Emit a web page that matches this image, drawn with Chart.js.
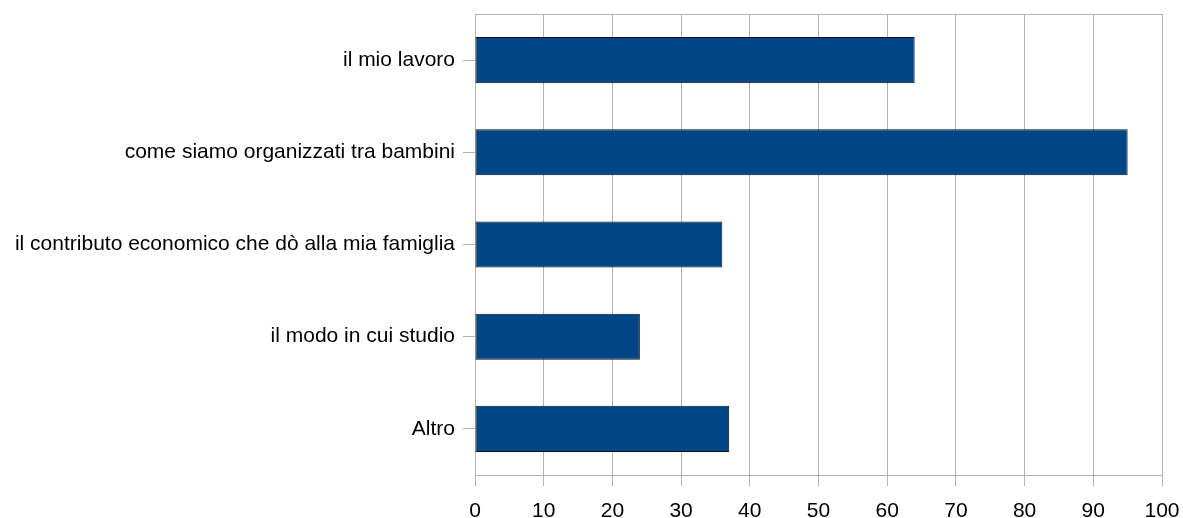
<!DOCTYPE html>
<html>
<head>
<meta charset="utf-8">
<script src="https://cdn.jsdelivr.net/npm/chart.js@4/dist/chart.umd.min.js"></script>
<style>
  html, body { margin: 0; padding: 0; background: #fff; }
  #wrap { width: 1183px; height: 518px; }
</style>
</head>
<body>
<div id="wrap"><canvas id="myChart"></canvas></div>
<script>
const categories = ['il mio lavoro', 'come siamo organizzati tra bambini', 'il contributo economico che dò alla mia famiglia', 'il modo in cui studio', 'Altro'];
const values = [64, 95, 36, 24, 37];
const xTicks = [0, 10, 20, 30, 40, 50, 60, 70, 80, 90, 100];

const gridGray = '#b3b3b3';
const ctx = document.getElementById('myChart');

new Chart(ctx, {
    type: 'bar',
    data: {
        labels: categories,
        datasets: [{
            data: values,
            backgroundColor: '#004586',
            borderColor: '#111',
            borderWidth: 1,
            borderSkipped: false,
            barPercentage: 0.5,
            categoryPercentage: 1
        }]
    },
    options: {
        indexAxis: 'y',
        responsive: true,
        maintainAspectRatio: false,
        animation: false,
        layout: { padding: { left: 0, top: 14, right: 21, bottom: 0 } },
        plugins: { legend: { display: false }, tooltip: { enabled: false } },
        scales: {
            x: {
                min: 0,
                max: 100,
                afterBuildTicks: (s) => { s.ticks = xTicks.map(v => ({ value: v })); },
                grid: { color: gridGray, tickColor: gridGray, tickLength: 11, lineWidth: 1 },
                border: { color: gridGray },
                ticks: { color: '#000', padding: 13, font: { family: 'Liberation Sans', size: 21 } },
                afterFit: (s) => { s.height = 43; s.paddingLeft = 0; s.paddingRight = 0; }
            },
            x2: {
                position: 'top',
                min: 0,
                max: 100,
                grid: { display: false },
                ticks: { display: false },
                border: { color: gridGray },
                afterFit: (s) => { s.height = 0; s.paddingLeft = 0; s.paddingRight = 0; }
            },
            y: {
                grid: { drawOnChartArea: false, offset: false, tickColor: gridGray, tickLength: 12 },
                border: { color: gridGray },
                ticks: { color: '#000', padding: 8, font: { family: 'Liberation Sans', size: 21 } },
                afterFit: (s) => { s.width = 475; s.paddingTop = 0; s.paddingBottom = 0; }
            }
        }
    }
});
</script>
</body>
</html>
